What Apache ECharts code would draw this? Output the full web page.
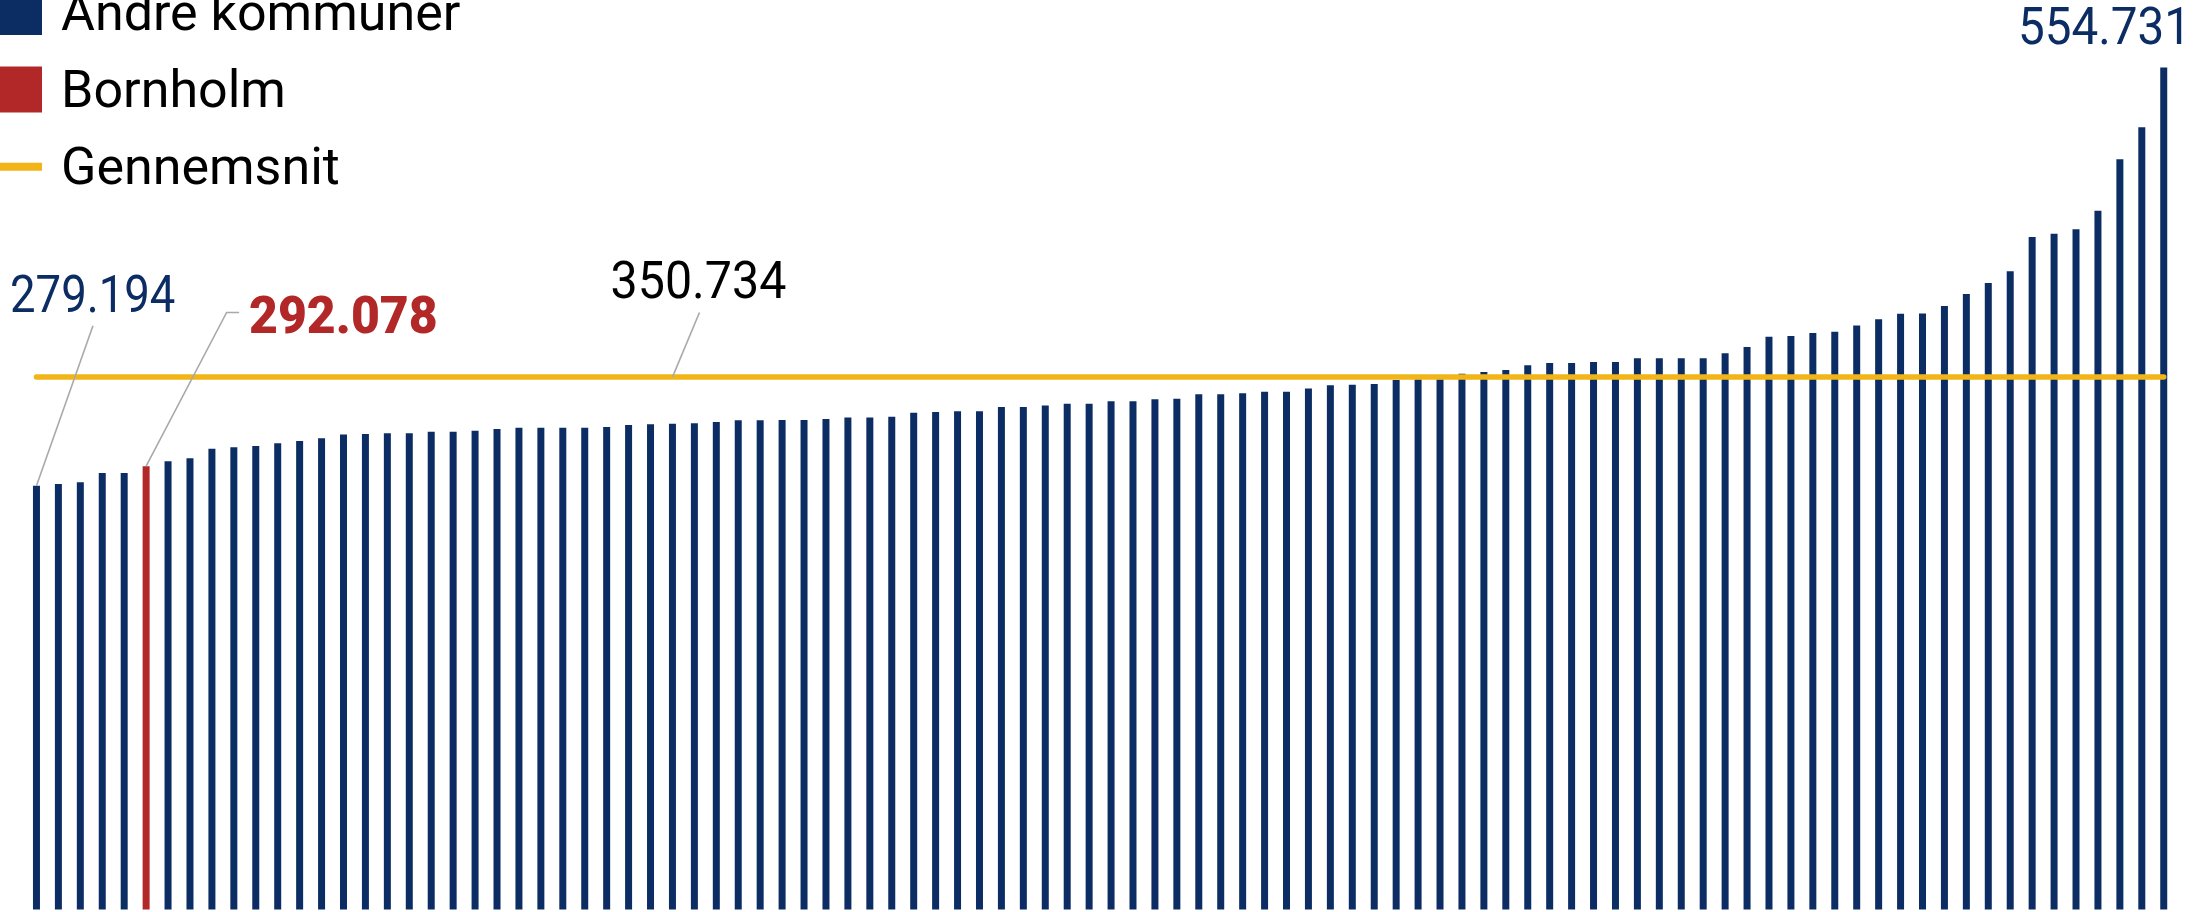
<!DOCTYPE html>
<html><head><meta charset="utf-8">
<script src="https://cdn.jsdelivr.net/npm/echarts@6/dist/echarts.min.js"></script>
<style>html,body{margin:0;padding:0;background:#fff}#c{width:2196px;height:912px}</style>
</head><body><div id="c"></div>
<script>
const values = [
  279.194, 280.3, 281.4, 287.5, 287.5, 292.078, 295.3, 297.2, 303.6, 304.5,
  305.3, 307.1, 308.6, 310.4, 313.0, 313.2, 313.7, 313.7, 314.8, 314.8,
  315.4, 316.5, 317.4, 317.4, 317.4, 317.4, 317.9, 319.2, 319.6, 320.0,
  320.3, 321.1, 322.3, 322.3, 322.5, 322.5, 323.1, 324.2, 324.2, 324.6,
  327.3, 327.7, 328.2, 328.2, 331.0, 331.0, 332.1, 333.2, 333.2, 334.8,
  334.8, 336.1, 336.5, 339.4, 339.4, 340.1, 341.1, 341.1, 343.3, 345.3,
  345.7, 346.2, 348.8, 349.3, 349.3, 353.0, 354.1, 355.4, 358.5, 360.0,
  360.0, 360.7, 360.7, 363.1, 363.1, 363.1, 363.1, 366.4, 370.6, 377.3,
  377.8, 379.8, 380.6, 384.8, 388.8, 392.5, 392.7, 397.6, 405.5, 412.7,
  420.4, 443.0, 445.2, 448.1, 460.3, 494.2, 515.3, 554.731
];
const bornholmIndex = 5;
const average = 350.734;
const averageLabelIndex = 29;
const categories = values.map((_, i) => 'Kommune ' + (i + 1));
const seriesNames = ['Andre kommuner', 'Bornholm', 'Gennemsnit'];
const labelMin = '279.194';
const labelBornholm = '292.078';
const labelAverage = '350.734';
const labelMax = '554.731';

const NAVY = '#0c2d64';
const RED = '#b22828';
const GOLD = '#f2b517';
const GREY = '#a9a9a9';
const FONT = 'Roboto';

const chart = echarts.init(document.getElementById('c'), null, { renderer: 'svg' });

const otherData = values.map((v, i) => i === bornholmIndex ? '-' : v);
const bornData = values.map((v, i) => i === bornholmIndex ? v : '-');
const avgData = values.map(() => average);

chart.setOption({
  animation: false,
  backgroundColor: '#fff',
  grid: { left: 25.5, right: 21.3, top: 13.9, bottom: 2.5, containLabel: false },
  xAxis: {
    type: 'category', data: categories, show: false, boundaryGap: true
  },
  yAxis: { type: 'value', min: 0, max: 590, show: false },
  legend: {
    orient: 'vertical', left: -4, top: -14, padding: 0,
    itemWidth: 46, itemHeight: 46, itemGap: 25.4,
    symbolKeepAspect: true,
    textStyle: { fontFamily: FONT, fontSize: 52, color: '#000', lineHeight: 46, padding: [0, 0, 0, 14] },
    data: [
      { name: seriesNames[0], icon: 'rect' },
      { name: seriesNames[1], icon: 'rect' },
      { name: seriesNames[2], icon: 'path://M0,0H46V8H0Z' }
    ]
  },
  series: [
    { name: seriesNames[0], type: 'bar', data: otherData, barWidth: 7, itemStyle: { color: NAVY } },
    { name: seriesNames[1], type: 'bar', data: bornData, barWidth: 7, barGap: '-100%', itemStyle: { color: RED } },
    { name: seriesNames[2], type: 'line', data: avgData, symbol: 'none', z: 3,
      lineStyle: { color: GOLD, width: 5.5, cap: 'round' }, itemStyle: { color: GOLD } }
  ]
});

const p0 = chart.convertToPixel({ seriesIndex: 0 }, [0, values[0]]);
const pB = chart.convertToPixel({ seriesIndex: 1 }, [bornholmIndex, values[bornholmIndex]]);
const pA = chart.convertToPixel({ seriesIndex: 2 }, [averageLabelIndex, average]);
const last = values.length - 1;
const pM = chart.convertToPixel({ seriesIndex: 0 }, [last, values[last]]);

const leader = (pts) => ({ type: 'polyline', silent: true, z: 10,
  shape: { points: pts }, style: { stroke: GREY, lineWidth: 1.6, fill: null } });
const txt = (text, x, y, align, color, weight, sx) => ({ type: 'text', silent: true, z: 10,
  x: x, y: y, scaleX: sx,
  style: { text: text, x: 0, y: 0, align: align, verticalAlign: 'middle',
    font: weight + ' 52px ' + FONT, fill: color } });

chart.setOption({
  graphic: [
    leader([[p0[0], p0[1]], [p0[0] + 56.5, p0[1] - 160]]),
    txt(labelMin, 10, p0[1] - 191, 'left', NAVY, 400, 0.875),
    leader([[pB[0], pB[1]], [pB[0] + 80.5, pB[1] - 153.7], [pB[0] + 93, pB[1] - 153.7]]),
    txt(labelBornholm, 249, pB[1] - 151, 'left', RED, 900, 0.96),
    leader([[pA[0], pA[1]], [pA[0] + 27, pA[1] - 64.6]]),
    txt(labelAverage, pA[0] + 26, pA[1] - 97.5, 'center', '#000', 400, 0.93),
    txt(labelMax, 2191, pM[1] - 40.7, 'right', NAVY, 400, 0.915)
  ]
});
</script></body></html>
